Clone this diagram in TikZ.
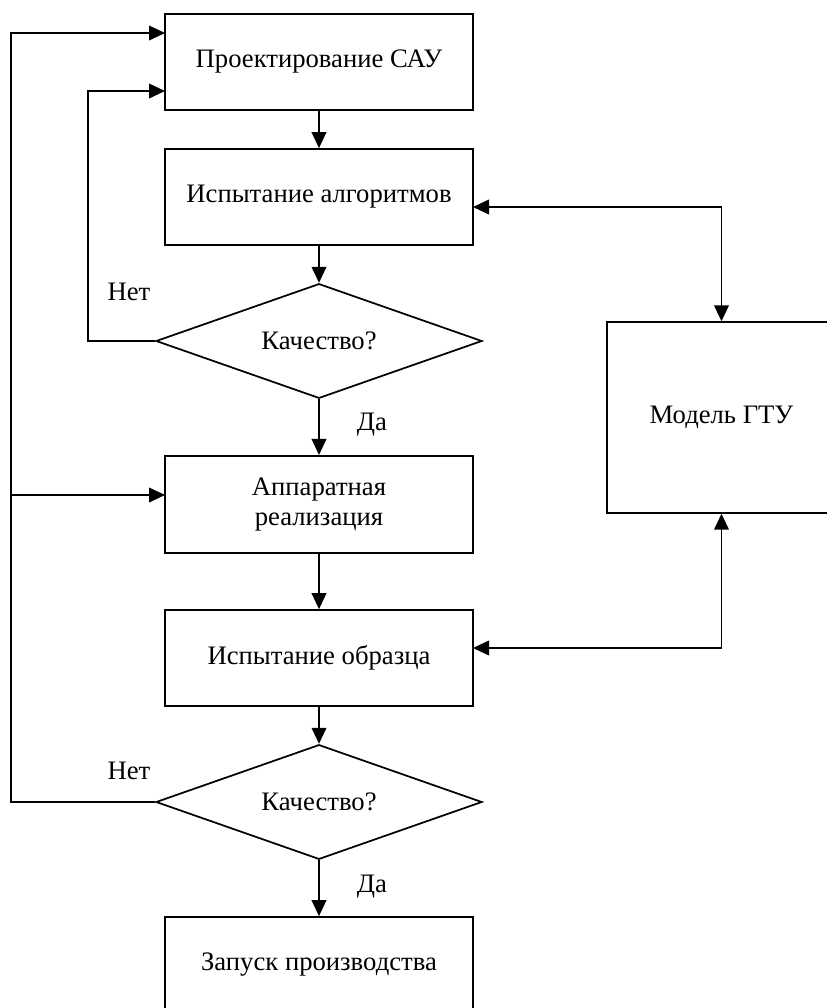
\documentclass[tikz,border=0pt]{standalone}
\usepackage{fontspec}
\setmainfont{Liberation Serif}
\usetikzlibrary{arrows.meta, shapes.geometric, positioning, calc}

\begin{document}
\begin{tikzpicture}[x=0.75pt,y=-0.75pt,
    font=\fontsize{20}{22}\selectfont,
    blok/.style={draw,line width=1.3pt,minimum width=231pt,minimum height=72pt,align=center,inner sep=0pt},
    romb/.style={draw,diamond,aspect=2.8,line width=1.3pt,minimum width=244.5pt,minimum height=86pt,inner sep=0pt},
    arr/.style={line width=1.3pt,-{Triangle[length=12pt,width=11pt]}},
    arrb/.style={line width=1.3pt,{Triangle[length=12pt,width=11pt]}-{Triangle[length=12pt,width=11pt]}},
    lbl/.style={inner sep=0pt}]
          \useasboundingbox(0,0)rectangle(827,1008);
          \node[blok](proj)at(319,62){Проектирование САУ};
          \node[blok](alg)at(319,197){Испытание алгоритмов};
          \node[romb](q1)at(319,341){Качество?};
          \node[blok,minimum height=73pt](hw)at(319,504.5){Аппаратная\\реализация};
          \node[blok](test)at(319,658){Испытание образца};
          \node[romb](q2)at(319,802){Качество?};
          \node[blok](start)at(319,965){Запуск производства};
          \node[blok,minimum width=172pt,minimum height=143pt](model)at(721.5,417.5){Модель ГТУ};
          \node[lbl](net1)at(129,292){Нет};
          \node[lbl](net2)at(129,771){Нет};
          \node[lbl](da1)at(372,425){Да};
          \node[lbl](da2)at(372,887){Да};
          \coordinate(pin1)at(165,91);
          \coordinate(pin2)at(165,33);
          \coordinate(hwin)at(165,495);
          \coordinate(ain)at(473,207);
          \coordinate(tin)at(473,648);
          \coordinate(l1)at(88,0);
          \coordinate(l2)at(11,0);
          \draw[arr](proj)--(alg);
          \draw[arr](alg)--(q1);
          \draw[arr](q1)--(hw);
          \draw[arr](hw)--(test);
          \draw[arr](test)--(q2);
          \draw[arr](q2)--(start);
          \draw[arr](q1.west)--(q1.west-|l1)|-(pin1);
          \draw[arr](q2.west)--(q2.west-|l2)|-(pin2);
          \draw[arr](hwin-|l2)--(hwin);
          \draw[arrb](ain)-|(model.north);
          \draw[arrb](tin)-|(model.south);
        \end{tikzpicture}
\end{document}
